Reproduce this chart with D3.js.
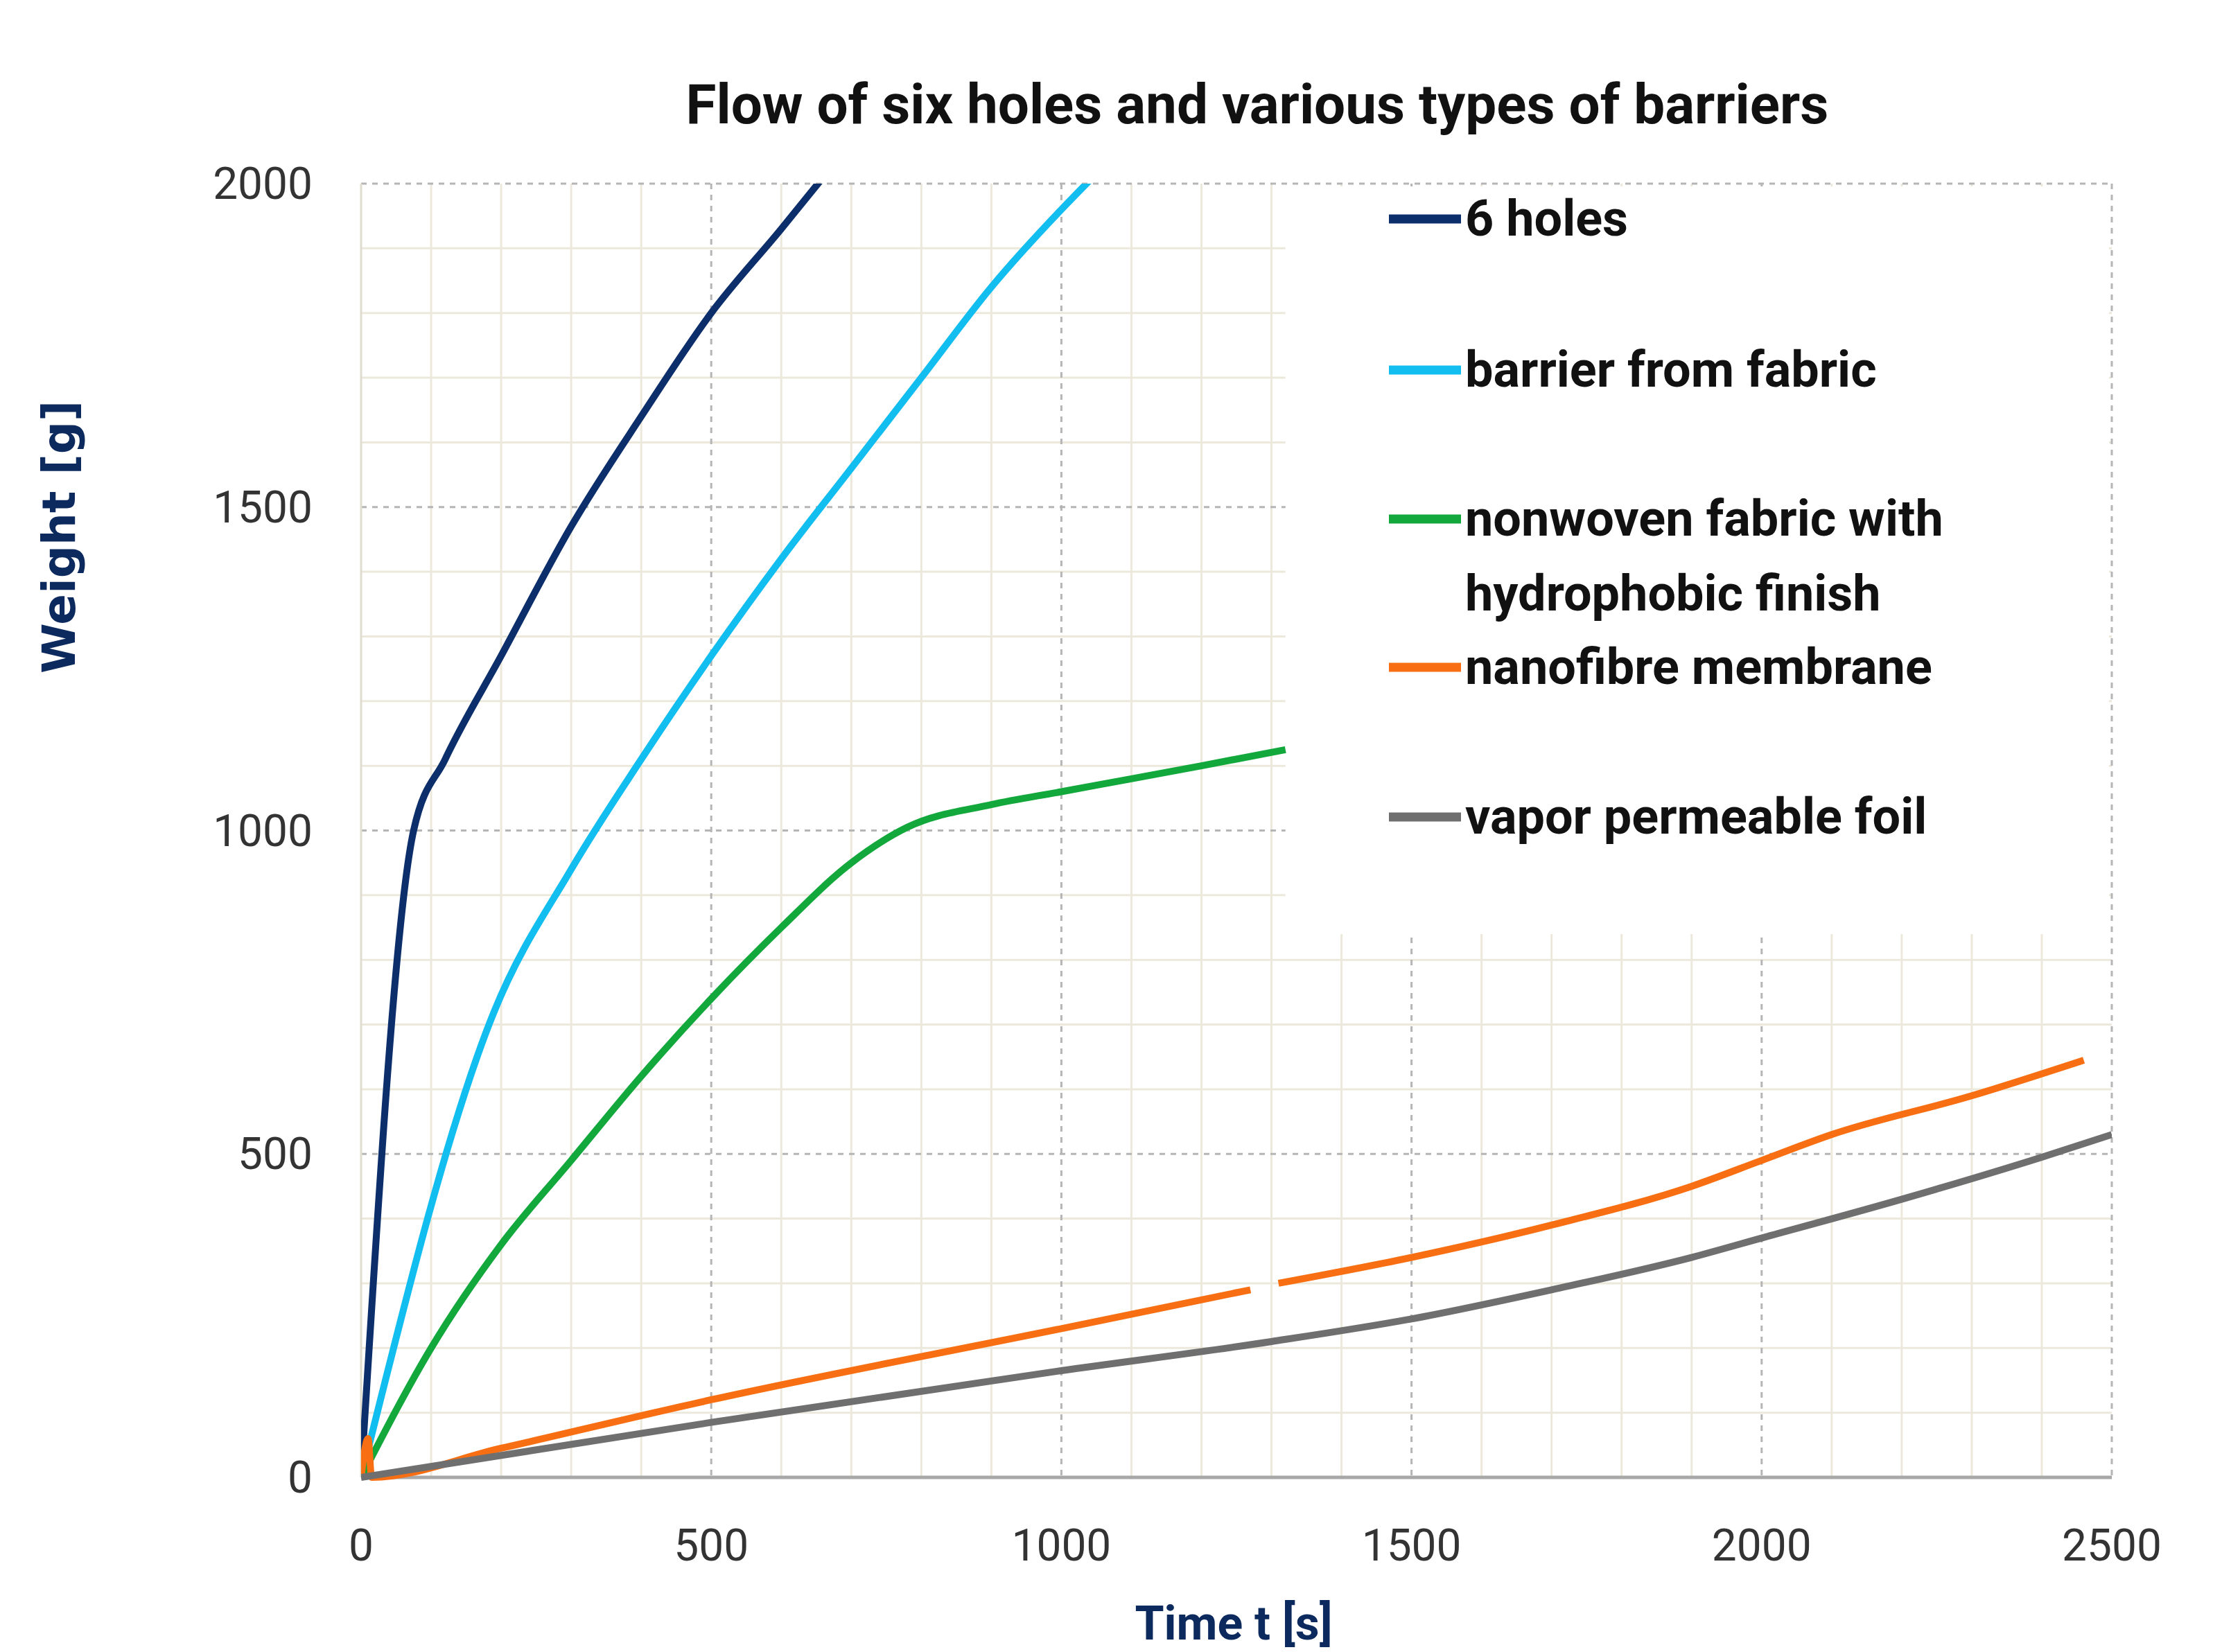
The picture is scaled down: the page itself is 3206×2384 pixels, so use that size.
<!DOCTYPE html><html><head><meta charset="utf-8">
<script src="https://cdn.jsdelivr.net/npm/d3@7"></script>
<style>body{margin:0;background:#fff}</style></head><body>
<script>
const seriesNames=["6 holes","barrier from fabric","nonwoven fabric with|hydrophobic finish","nanofibre membrane","vapor permeable foil"];
const colors=["#0c2f6b","#12bdf0","#12a83c","#f76f12","#6f6f6f"];
const holes=[[0,0],[75,1000],[120,1110],[200,1270],[300,1470],[400,1640],[500,1800],[600,1930],[660,2010]];
const fabric=[[0,0],[190,720],[300,940],[400,1110],[500,1270],[600,1420],[700,1560],[800,1700],[900,1840],[1000,1960],[1045,2010]];
const nonwoven=[[0,0],[100,200],[200,360],[300,490],[400,620],[500,740],[600,850],[700,950],[780,1005],[900,1040],[1000,1060],[1100,1080],[1200,1100],[1320,1125]];
const nanoA=[[0,0],[10,60],[15,0],[200,45],[500,120],[1000,230],[1270,290]];
const nanoB=[[1310,300],[1500,340],[1700,390],[1900,450],[2000,490],[2100,530],[2300,590],[2460,645]];
const foil=[[0,0],[500,85],[1000,165],[1300,210],[1500,245],[1700,290],[1900,340],[2000,370],[2200,430],[2400,495],[2500,530]];
const xTicks=[0,500,1000,1500,2000,2500];
const yTicks=[0,500,1000,1500,2000];

const W=3206,H=2384,L=521,R=3047,T=265,B=2132;
const svg=d3.select("body").append("svg").attr("width",W).attr("height",H);
const x=d3.scaleLinear().domain([0,2500]).range([L,R]);
const y=d3.scaleLinear().domain([0,2000]).range([B,T]);
const font="'Liberation Sans Narrow','Roboto',sans-serif";
// minor grid
const minor=d3.range(100,2500,100).filter(v=>v%500);
svg.selectAll(".mx").data(minor).join("line").attr("x1",d=>x(d)).attr("x2",d=>x(d)).attr("y1",T).attr("y2",B).attr("stroke","#ece9dc").attr("stroke-width",3);
const minorY=d3.range(100,2000,100).filter(v=>v%500);
svg.selectAll(".my").data(minorY).join("line").attr("x1",L).attr("x2",R).attr("y1",d=>y(d)).attr("y2",d=>y(d)).attr("stroke","#ece9dc").attr("stroke-width",3);
// major dashed
svg.selectAll(".gx").data(xTicks.slice(1)).join("line").attr("x1",d=>x(d)).attr("x2",d=>x(d)).attr("y1",T).attr("y2",B).attr("stroke","#b5b5b5").attr("stroke-width",3).attr("stroke-dasharray","8,8");
svg.selectAll(".gy").data(yTicks.slice(1)).join("line").attr("x1",L).attr("x2",R).attr("y1",d=>y(d)).attr("y2",d=>y(d)).attr("stroke","#b5b5b5").attr("stroke-width",3).attr("stroke-dasharray","8,8");
// legend white box
svg.append("rect").attr("x",x(1320)).attr("y",T+4).attr("width",R-x(1320)-4).attr("height",y(840)-T-4).attr("fill","#fff");
svg.append("line").attr("x1",L).attr("x2",L).attr("y1",T).attr("y2",B).attr("stroke","#e0ddd0").attr("stroke-width",3);
// axis
svg.append("line").attr("x1",L).attr("x2",R).attr("y1",B).attr("y2",B).attr("stroke","#a8a8a8").attr("stroke-width",5);
svg.selectAll(".xt").data(xTicks).join("text").attr("x",d=>x(d)).attr("y",B+120).attr("text-anchor","middle").attr("font-family",font).attr("font-size",64).attr("fill","#333").text(d=>d);
svg.selectAll(".yt").data(yTicks).join("text").attr("x",L-70).attr("y",d=>y(d)+22).attr("text-anchor","end").attr("font-family",font).attr("font-size",64).attr("fill","#333").text(d=>d);
// lines
const line=d3.line().x(d=>x(d[0])).y(d=>y(Math.min(d[1],2000))).curve(d3.curveMonotoneX);
const clip=svg.append("clipPath").attr("id","c").append("rect").attr("x",L).attr("y",T).attr("width",R-L).attr("height",B-T+10);
const data=[[holes],[fabric],[nonwoven],[nanoA,nanoB],[foil]];
const g=svg.append("g").attr("clip-path","url(#c)");
data.forEach((arr,i)=>arr.forEach(s=>g.append("path").attr("d",d3.line().x(d=>x(d[0])).y(d=>y(d[1])).curve(d3.curveMonotoneX)(s)).attr("fill","none").attr("stroke",colors[i]).attr("stroke-width",10).attr("stroke-linejoin","round")));
// legend
const ly=[316,534,749,963,1179];
seriesNames.forEach((n,i)=>{
  svg.append("line").attr("x1",2004).attr("x2",2108).attr("y1",ly[i]).attr("y2",ly[i]).attr("stroke",colors[i]).attr("stroke-width",13);
  n.split("|").forEach((t,j)=>svg.append("text").attr("x",2114).attr("y",ly[i]+24+j*108).attr("font-family",font).attr("font-weight","bold").attr("font-size",72).attr("fill","#111").text(t));
});
// titles
svg.append("text").attr("x",1814).attr("y",178).attr("text-anchor","middle").attr("font-family",font).attr("font-weight","bold").attr("font-size",80).attr("fill","#111").text("Flow of six holes and various types of barriers");
svg.append("text").attr("transform","translate(108,775) rotate(-90)").attr("text-anchor","middle").attr("font-family","'DejaVu Sans',sans-serif").attr("font-weight","bold").attr("font-size",66).attr("fill","#0d2a5e").text("Weight [g]");
svg.append("text").attr("x",1780).attr("y",2366).attr("text-anchor","middle").attr("font-family",font).attr("font-weight","bold").attr("font-size",68).attr("fill","#0d2a5e").text("Time  t [s]");
</script></body></html>
